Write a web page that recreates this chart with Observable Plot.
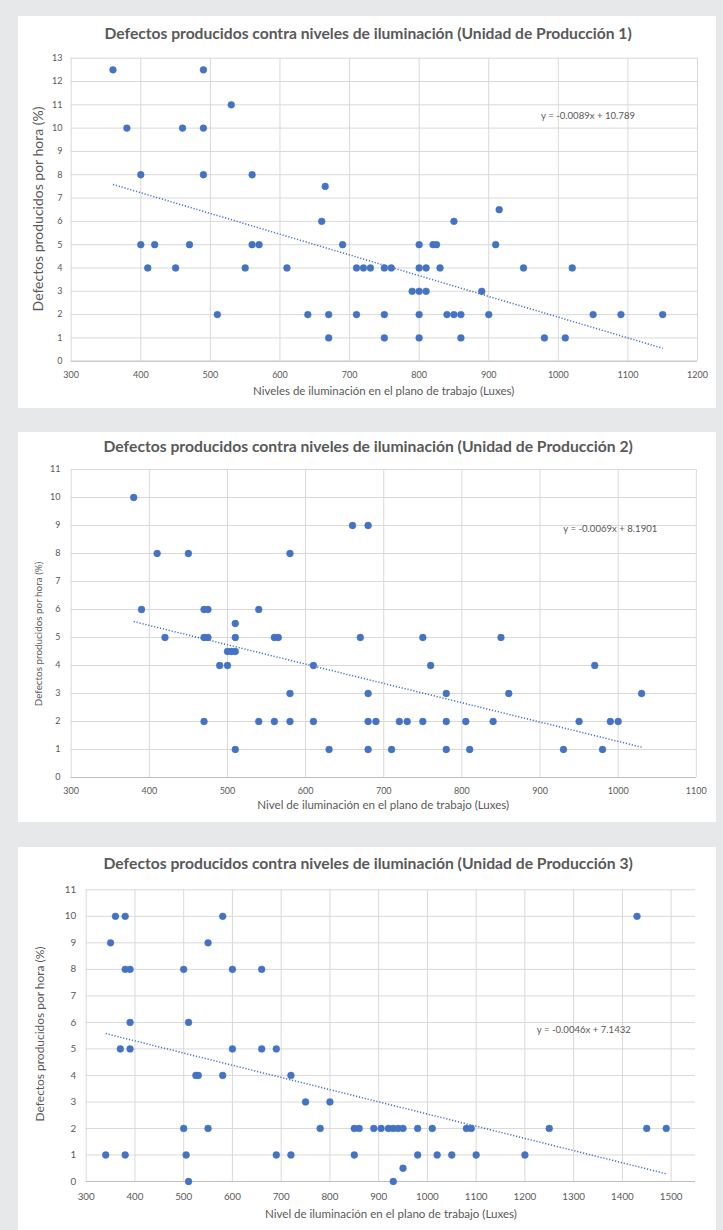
<!DOCTYPE html>
<html><head><meta charset="utf-8">
<script src="https://cdn.jsdelivr.net/npm/d3@7"></script>
<script src="https://cdn.jsdelivr.net/npm/@observablehq/plot@0.6"></script>
<style>
html,body{margin:0;padding:0}
body{background:#e7e8ea;width:723px;height:1230px;position:relative;overflow:hidden;font-family:Lato,"Open Sans",sans-serif;color:#595959}
.panel{position:absolute;background:#fff}
.lbl{position:absolute;white-space:nowrap;line-height:1;color:#595959}
svg.plot{position:absolute}
</style></head><body>
<script>
// ---------- Data ----------
const titles = [
  "Defectos producidos contra niveles de iluminación (Unidad de Producción 1)",
  "Defectos producidos contra niveles de iluminación (Unidad de Producción 2)",
  "Defectos producidos contra niveles de iluminación (Unidad de Producción 3)"
];
const xLabels = [
  "Niveles de iluminación en el plano de trabajo (Luxes)",
  "Nivel de iluminación en el plano de trabajo (Luxes)",
  "Nivel de iluminación en el plano de trabajo (Luxes)"
];
const yLabel = "Defectos producidos por hora (%)";

// Unit 1
const lux1 = [360,490,530,380,460,490,400,490,560,665,660,850,915,400,420,470,560,570,690,800,820,825,910,
  410,450,550,610,710,720,730,750,760,800,810,830,950,1020,790,800,810,890,
  510,640,670,710,750,800,840,850,860,900,1050,1090,1150,670,750,800,860,980,1010];
const def1 = [12.5,12.5,11,10,10,10,8,8,8,7.5,6,6,6.5,5,5,5,5,5,5,5,5,5,5,
  4,4,4,4,4,4,4,4,4,4,4,4,4,4,3,3,3,3,
  2,2,2,2,2,2,2,2,2,2,2,2,2,1,1,1,1,1,1];
const xTicks1 = [300,400,500,600,700,800,900,1000,1100,1200];
const yTicks1 = [0,1,2,3,4,5,6,7,8,9,10,11,12,13];
const trend1 = {slope: -0.0089, intercept: 10.789, from: 360, to: 1150};
const eqText1 = "y = -0.0089x + 10.789";

// Unit 2
const lux2 = [380,660,680,410,450,580,390,470,475,540,510,420,470,475,510,560,565,670,750,850,
  500,505,510,490,500,610,760,970,580,680,780,860,1030,
  470,540,560,580,610,680,690,720,730,750,780,805,840,950,990,1000,
  510,630,680,710,780,810,930,980];
const def2 = [10,9,9,8,8,8,6,6,6,6,5.5,5,5,5,5,5,5,5,5,5,
  4.5,4.5,4.5,4,4,4,4,4,3,3,3,3,3,
  2,2,2,2,2,2,2,2,2,2,2,2,2,2,2,2,
  1,1,1,1,1,1,1,1];
const xTicks2 = [300,400,500,600,700,800,900,1000,1100];
const yTicks2 = [0,1,2,3,4,5,6,7,8,9,10,11];
const trend2 = {slope: -0.0069, intercept: 8.1901, from: 380, to: 1030};
const eqText2 = "y = -0.0069x + 8.1901";

// Unit 3
const lux3 = [360,380,580,1430,350,550,380,390,500,600,660,390,510,370,390,600,660,690,
  525,530,580,720,750,800,
  500,550,780,850,860,890,905,920,930,940,950,980,1010,1080,1090,1250,1450,1490,
  340,380,505,690,720,850,980,1020,1050,1100,1200,950,510,930];
const def3 = [10,10,10,10,9,9,8,8,8,8,8,6,6,5,5,5,5,5,
  4,4,4,4,3,3,
  2,2,2,2,2,2,2,2,2,2,2,2,2,2,2,2,2,2,
  1,1,1,1,1,1,1,1,1,1,1,0.5,0,0];
const xTicks3 = [300,400,500,600,700,800,900,1000,1100,1200,1300,1400,1500];
const yTicks3 = [0,1,2,3,4,5,6,7,8,9,10,11];
const trend3 = {slope: -0.0046, intercept: 7.1432, from: 340, to: 1490};
const eqText3 = "y = -0.0046x + 7.1432";

// ---------- Layout ----------
const BLUE = "#4472c4", GRID = "#d9d9d9", TXT = "#595959";

function box(left, top, w, h) {
  const d = document.createElement("div");
  d.className = "panel";
  Object.assign(d.style, {left: left + "px", top: top + "px", width: w + "px", height: h + "px"});
  document.body.appendChild(d);
}

function label(text, cx, cy, targetW, opts = {}) {
  const d = document.createElement("div");
  d.className = "lbl";
  d.textContent = text;
  d.style.fontWeight = opts.bold ? "700" : "400";
  d.style.fontSize = "20px";
  document.body.appendChild(d);
  const m = d.offsetWidth;
  d.style.fontSize = (20 * targetW / m) + "px";
  const w = d.offsetWidth, h = d.offsetHeight;
  d.style.left = (cx - w / 2) + "px";
  d.style.top = (cy - h / 2) + "px";
  if (opts.rotate) d.style.transform = "rotate(-90deg)";
}

function chart(c) {
  const pts = c.lux.map((x, i) => ({x, y: c.def[i]}));
  const tl = [c.trend.from, c.trend.to].map(x => ({x, y: c.trend.slope * x + c.trend.intercept}));
  const svg = Plot.plot({
    width: 723, height: c.boxH,
    marginLeft: c.pl, marginRight: 723 - c.pr, marginTop: c.pt - c.boxTop, marginBottom: c.boxTop + c.boxH - c.pb,
    x: {domain: c.xDomain, ticks: c.xTicks, tickFormat: d => String(d), tickSize: 0, tickPadding: c.xPad, label: null},
    y: {domain: c.yDomain, ticks: c.yTicks, tickFormat: d => String(d), tickSize: 0, tickPadding: c.yPad, label: null},
    style: {fontFamily: "Lato, 'Open Sans', sans-serif", fontSize: c.fs + "px", color: TXT, background: "transparent", overflow: "visible"},
    marks: [
      Plot.ruleX(c.xTicks, {stroke: GRID, strokeWidth: 1}),
      Plot.ruleY(c.yTicks, {stroke: GRID, strokeWidth: 1}),
      Plot.ruleY([c.yDomain[0]], {stroke: "#bfbfbf", strokeWidth: 1}),
      Plot.line(tl, {x: "x", y: "y", stroke: BLUE, strokeWidth: 1.5, strokeDasharray: "1.2,1.8", strokeLinecap: "butt"}),
      Plot.dot(pts, {x: "x", y: "y", r: 3.4, fill: BLUE, stroke: BLUE, strokeWidth: 0.5})
    ]
  });
  svg.classList.add("plot");
  svg.style.left = "0px";
  svg.style.top = c.boxTop + "px";
  document.body.appendChild(svg);
}

// Panel 1
box(18, 16, 698, 392);
chart({lux: lux1, def: def1, xTicks: xTicks1, yTicks: yTicks1, xDomain: [300, 1200], yDomain: [0, 13],
  trend: trend1, boxTop: 16, boxH: 392, pl: 70.7, pr: 697, pt: 57.7, pb: 360.7, xPad: 10, yPad: 8.7, fs: 9});
label(titles[0], 368, 34, 528, {bold: true});
label(xLabels[0], 383.5, 390.7, 261.6);
label(yLabel, 38, 209, 205, {rotate: true});
label(eqText1, 588, 115.7, 94);

// Panel 2
box(18, 432, 698, 390);
chart({lux: lux2, def: def2, xTicks: xTicks2, yTicks: yTicks2, xDomain: [300, 1100], yDomain: [0, 11],
  trend: trend2, boxTop: 432, boxH: 390, pl: 70.7, pr: 695.8, pt: 469, pb: 777, xPad: 9.8, yPad: 10.7, fs: 9});
label(titles[1], 368, 447.3, 530, {bold: true});
label(xLabels[1], 383.3, 805, 252);
label(yLabel, 39, 634, 145, {rotate: true});
label(eqText2, 610.3, 529.3, 94);

// Panel 3
box(18, 847, 698, 383);
chart({lux: lux3, def: def3, xTicks: xTicks3, yTicks: yTicks3, xDomain: [300, 1550], yDomain: [0, 11],
  trend: trend3, boxTop: 847, boxH: 383, pl: 85.7, pr: 695, pt: 889.3, pb: 1181, xPad: 11.2, yPad: 10, fs: 9.8});
label(titles[2], 368, 864, 530, {bold: true});
label(xLabels[2], 391, 1214.3, 252);
label(yLabel, 40, 1034, 175, {rotate: true});
label(eqText3, 583.8, 1030.3, 94);
</script>
</body></html>
